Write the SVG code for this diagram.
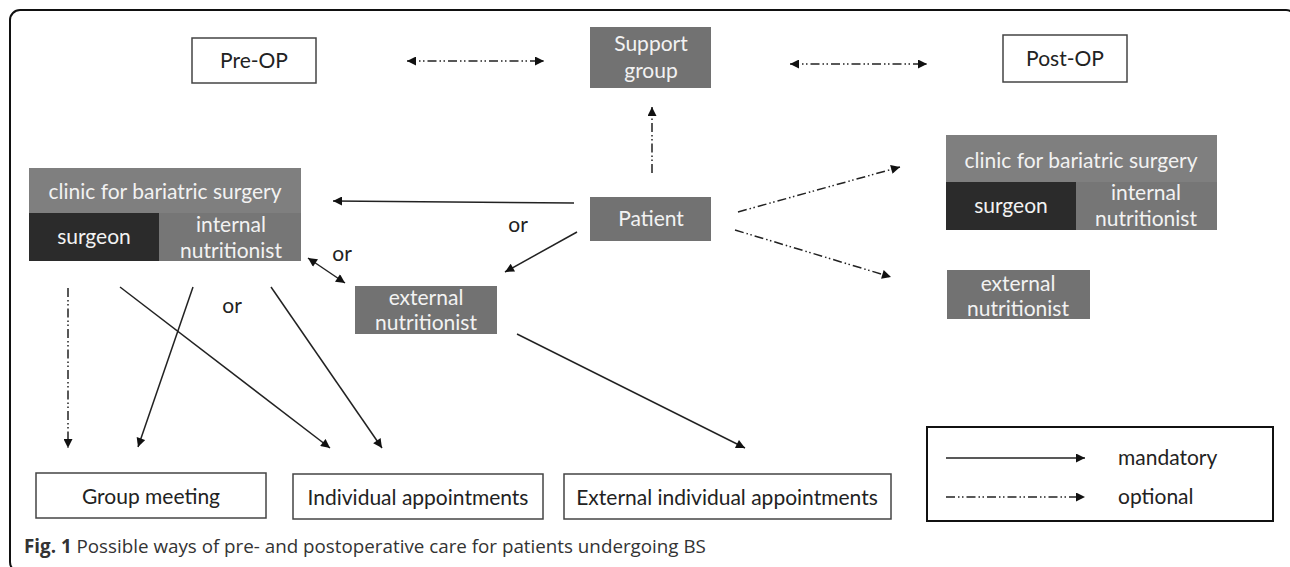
<svg xmlns="http://www.w3.org/2000/svg" width="1290" height="567" viewBox="0 0 1290 567">
<defs>
<marker id="ah" viewBox="0 0 10 10" refX="10" refY="5" markerWidth="11" markerHeight="9" markerUnits="userSpaceOnUse" orient="auto-start-reverse">
<path d="M0,0 L10,5 L0,10 z" fill="#111"/>
</marker>
<style>
.t{font-family:Lato,"Liberation Sans",sans-serif;font-size:21px;text-anchor:middle}
.dk{fill:#222}
.lt{fill:#f2f2f2}
.wb{fill:#fff;stroke:#444;stroke-width:1.5}
.g1{fill:#727272}
.g2{fill:#7f7f7f}
.g3{fill:#767676}
.g4{fill:#2b2b2b}
.m{stroke:#222;stroke-width:1.5;fill:none}
.o{stroke:#222;stroke-width:1.5;fill:none;stroke-dasharray:9 3 1.5 2.5 1.5 3}
</style>
</defs>
<rect x="10" y="10" width="1286" height="562" rx="10" fill="#fff" stroke="#111" stroke-width="2"/>

<g id="preop"><rect class="wb" x="192" y="38" width="124" height="45"/><text class="t dk" x="254" y="68">Pre-OP</text></g>
<g id="support"><rect class="g1" x="590" y="27" width="121" height="61"/><text class="t lt" x="651" y="51">Support</text><text class="t lt" x="651" y="78">group</text></g>
<g id="postop"><rect class="wb" x="1003" y="35" width="124" height="47"/><text class="t dk" x="1065" y="66">Post-OP</text></g>
<g id="patient"><rect class="g1" x="590" y="197" width="121" height="44"/><text class="t lt" x="651" y="226">Patient</text></g>

<g id="clinic-left">
<rect class="g2" x="29" y="168" width="272" height="45"/>
<rect class="g4" x="29" y="213" width="130" height="48"/>
<rect class="g3" x="159" y="213" width="142" height="48"/>
<text class="t lt" x="165" y="199">clinic for bariatric surgery</text>
<text class="t lt" x="94" y="244">surgeon</text>
<text class="t lt" x="231" y="232">internal</text>
<text class="t lt" x="231" y="258">nutritionist</text>
</g>
<g id="clinic-right">
<rect class="g2" x="946" y="135" width="271" height="47"/>
<rect class="g4" x="946" y="182" width="130" height="48"/>
<rect class="g3" x="1076" y="182" width="141" height="48"/>
<text class="t lt" x="1081" y="168">clinic for bariatric surgery</text>
<text class="t lt" x="1011" y="213">surgeon</text>
<text class="t lt" x="1146" y="200">internal</text>
<text class="t lt" x="1146" y="226">nutritionist</text>
</g>
<g id="ext-mid"><rect class="g1" x="355" y="286" width="142" height="48"/><text class="t lt" x="426" y="305">external</text><text class="t lt" x="426" y="330">nutritionist</text></g>
<g id="ext-right"><rect class="g1" x="947" y="270" width="143" height="49"/><text class="t lt" x="1018" y="291">external</text><text class="t lt" x="1018" y="316">nutritionist</text></g>

<g id="group"><rect class="wb" x="36" y="473" width="230" height="45"/><text class="t dk" x="151" y="504">Group meeting</text></g>
<g id="indiv"><rect class="wb" x="293" y="474" width="250" height="45"/><text class="t dk" x="418" y="505">Individual appointments</text></g>
<g id="extindiv"><rect class="wb" x="564" y="474" width="327" height="45"/><text class="t dk" x="727" y="505">External individual appointments</text></g>

<g id="legend">
<rect x="927" y="427" width="346" height="94" fill="#fff" stroke="#111" stroke-width="2"/>
<line class="m" x1="946" y1="458" x2="1085" y2="458" marker-end="url(#ah)"/>
<line class="o" x1="946" y1="497" x2="1085" y2="497" marker-end="url(#ah)"/>
<text class="t dk" x="1118" y="465" style="text-anchor:start">mandatory</text>
<text class="t dk" x="1118" y="504" style="text-anchor:start">optional</text>
</g>

<g id="connectors">
<line class="o" x1="407" y1="61" x2="544" y2="61" marker-start="url(#ah)" marker-end="url(#ah)"/>
<line class="o" x1="790" y1="64" x2="927" y2="64" marker-start="url(#ah)" marker-end="url(#ah)"/>
<line class="o" x1="652" y1="173" x2="652" y2="107" marker-end="url(#ah)"/>
<line class="m" x1="574" y1="203" x2="333" y2="201" marker-end="url(#ah)"/>
<line class="m" x1="577" y1="232" x2="505" y2="272" marker-end="url(#ah)"/>
<line class="m" x1="308" y1="258" x2="345" y2="283" marker-start="url(#ah)" marker-end="url(#ah)"/>
<line class="o" x1="68" y1="288" x2="68" y2="448" marker-end="url(#ah)"/>
<line class="m" x1="193" y1="287" x2="138" y2="447" marker-end="url(#ah)"/>
<line class="m" x1="120" y1="287" x2="330" y2="448" marker-end="url(#ah)"/>
<line class="m" x1="271" y1="287" x2="382" y2="448" marker-end="url(#ah)"/>
<line class="m" x1="517" y1="334" x2="745" y2="448" marker-end="url(#ah)"/>
<line class="o" x1="738" y1="212" x2="900" y2="167" marker-end="url(#ah)"/>
<line class="o" x1="735" y1="230" x2="891" y2="277" marker-end="url(#ah)"/>
</g>

<g id="labels" style="font-family:Lato,'Liberation Sans',sans-serif;font-size:21px;fill:#222;text-anchor:middle">
<text x="518" y="232">or</text>
<text x="342" y="261">or</text>
<text x="232" y="313">or</text>
</g>

<text x="24" y="553" style="font-family:'Open Sans','Noto Sans',sans-serif;font-size:18.8px;fill:#333"><tspan style="font-weight:bold">Fig. 1</tspan> Possible ways of pre- and postoperative care for patients undergoing BS</text>
</svg>
